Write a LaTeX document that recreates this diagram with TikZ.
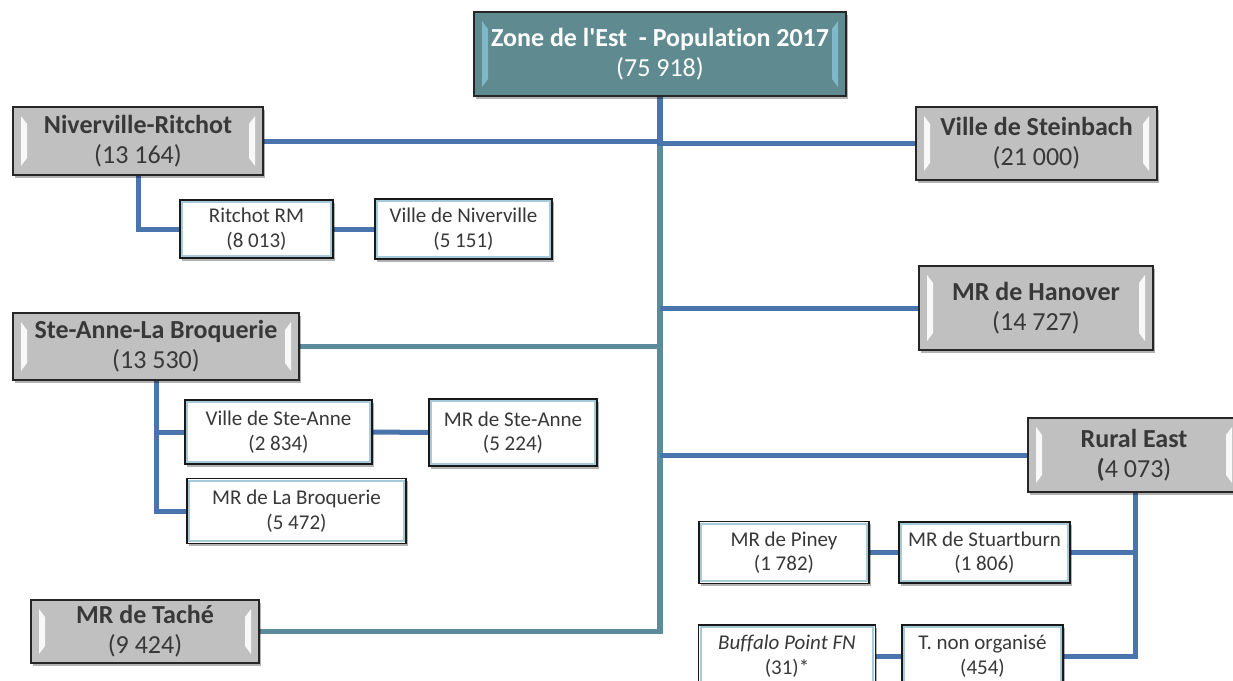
\documentclass[tikz,border=0pt]{standalone}
\usepackage{fontspec}
\newfontfamily\carl[Ligatures=NoCommon]{Carlito}
\usetikzlibrary{calc,shadows}
\pgfdeclarelayer{bg}
\pgfsetlayers{bg,main}
\definecolor{lnblue}{HTML}{4A75AC}
\definecolor{lnteal}{HTML}{5A8C9C}
\definecolor{topfill}{HTML}{5E8A90}
\definecolor{grayfill}{HTML}{C0C0C0}
\definecolor{txtdark}{HTML}{383838}
\definecolor{innerblue}{HTML}{A6CAD8}
\tikzset{
  shad/.style={drop shadow={shadow xshift=1.5pt,shadow yshift=-2.5pt,opacity=0.3,fill=black}},
  bevel/.style={path picture={
    \fill[#1] ($(path picture bounding box.north west)+(8pt,-9pt)$) -- ++(6pt,-8pt)
       -- ($(path picture bounding box.south west)+(14pt,17pt)$) -- ++(-6pt,-8pt) -- cycle;
    \fill[#1] ($(path picture bounding box.north east)+(-8pt,-9pt)$) -- ++(-6pt,-8pt)
       -- ($(path picture bounding box.south east)+(-14pt,17pt)$) -- ++(6pt,-8pt) -- cycle;
  }},
  headbox/.style={rectangle, draw=black!85, line width=1.5pt, fill=grayfill, shad,
    bevel={white,opacity=0.9}, align=center, inner sep=0pt,
    font=\carl\fontsize{26}{30}\selectfont, text=txtdark},
  topbox/.style={rectangle, draw=black!85, line width=1.8pt, fill=topfill, shad,
    bevel={white!60!cyan,opacity=0.55}, align=center, inner sep=0pt,
    font=\carl\fontsize{26}{30}\selectfont, text=white},
  smallbox/.style={rectangle, draw=black!90, line width=1.6pt, fill=white, shad,
    align=center, inner sep=0pt, font=\carl\fontsize{21}{24.5}\selectfont, text=txtdark,
    path picture={\draw[innerblue, line width=1.8pt]
      ([shift={(2.2pt,2.2pt)}]path picture bounding box.south west) rectangle
      ([shift={(-2.2pt,-2.2pt)}]path picture bounding box.north east);}},
  blink/.style={lnblue, line width=5pt},
  tlink/.style={lnteal, line width=5pt},
}
\begin{document}
\begin{tikzpicture}[x=1pt,y=-1pt]
\useasboundingbox (0,0) rectangle (1233,680);
% main boxes
\node[topbox, minimum width=372pt, minimum height=84pt] (top) at (660,54)
  {\textbf{Zone de l'Est \ - Population 2017}\\(75 918)};
\node[headbox, minimum width=250pt, minimum height=68pt] (nr) at (138,141)
  {\textbf{Niverville-Ritchot}\\(13 164)};
\node[headbox, minimum width=241pt, minimum height=73pt] (stein) at (1036.5,143.5)
  {\textbf{Ville de Steinbach}\\(21 000)};
\node[headbox, minimum width=234pt, minimum height=84pt] (han) at (1036,308)
  {\textbf{MR de Hanover}\\(14 727)};
\node[headbox, minimum width=286pt, minimum height=67pt] (sal) at (156,346.5)
  {\textbf{Ste-Anne-La Broquerie}\\(13 530)};
\node[headbox, minimum width=212pt, minimum height=74pt] (re) at (1134,455)
  {\textbf{Rural East}\\\textbf{(}4 073)};
\node[headbox, minimum width=228pt, minimum height=63pt] (tache) at (145,631.5)
  {\textbf{MR de Taché}\\(9 424)};
% small boxes
\node[smallbox, minimum width=153pt, minimum height=58pt] (rrm) at (256.5,229)
  {Ritchot RM\\(8 013)};
\node[smallbox, minimum width=177pt, minimum height=60pt] (vnv) at (463.5,229)
  {Ville de Niverville\\(5 151)};
\node[smallbox, minimum width=187pt, minimum height=64pt] (vsa) at (278.5,432)
  {Ville de Ste-Anne\\(2 834)};
\node[smallbox, minimum width=168pt, minimum height=67pt] (msa) at (513,432.5)
  {MR de Ste-Anne\\(5 224)};
\node[smallbox, minimum width=219pt, minimum height=65pt] (mlb) at (296.5,511)
  {MR de La Broquerie\\(5 472)};
\node[smallbox, minimum width=170pt, minimum height=62pt] (pin) at (784,552.5)
  {MR de Piney\\(1 782)};
\node[smallbox, minimum width=171pt, minimum height=61pt] (stu) at (984.5,552.5)
  {MR de Stuartburn\\(1 806)};
\node[smallbox, minimum width=177pt, minimum height=62pt] (bpf) at (787,656)
  {\textit{Buffalo Point FN}\\(31)*};
\node[smallbox, minimum width=161pt, minimum height=62pt] (tno) at (982.5,656)
  {T. non organisé\\(454)};
% connectors
\begin{pgfonlayer}{bg}
\fill[white] (0,0) rectangle (1233,680);
\coordinate (tj) at (top.south |- nr.east);
\draw[tlink, line width=5.5pt] (tj) -- (top.south |- tache.east) -- (tache.east);
\draw[blink, line width=5.5pt] (top.south) -- ($(tj)+(0,5)$);
\draw[blink] (nr.east) -- (nr.east -| top.south);
\draw[blink] (stein.west -| top.south) -- (stein.west);
\draw[blink] (han.west -| top.south) -- (han.west);
\draw[tlink] (sal.east) -- (sal.east -| top.south);
\draw[blink] (re.west -| top.south) -- (re.west);
% Niverville-Ritchot subtree
\draw[blink] (nr.south) |- (rrm.west);
\draw[blink] (rrm.east) -- (vnv.west);
% Ste-Anne subtree
\draw[blink] (sal.south) |- (mlb.west);
\draw[blink] (sal.south |- vsa.west) -- (vsa.west);
\draw[blink] (vsa.east) -- (msa.west);
% Rural East subtree
\coordinate (rev) at ($(re.south)+(1,0)$);
\draw[blink] (rev) |- (tno.east);
\draw[blink] (rev |- stu.east) -- (stu.east);
\draw[blink] (pin.east) -- (stu.west);
\draw[blink] (bpf.east) -- (tno.west);
\end{pgfonlayer}
\end{tikzpicture}
\end{document}
